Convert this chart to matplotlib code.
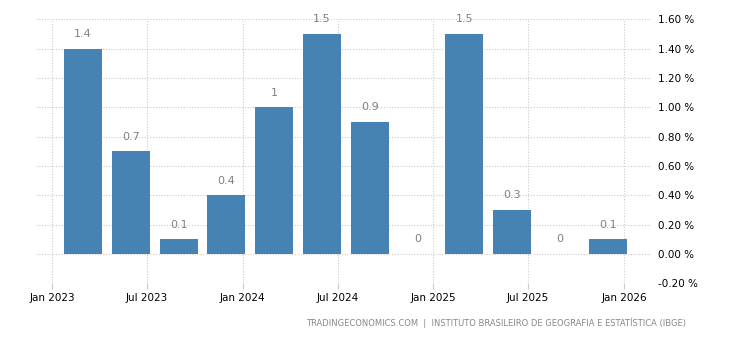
import datetime as dt
import matplotlib
matplotlib.use('Agg')
import matplotlib.pyplot as plt
import matplotlib.dates as mdates
from matplotlib.ticker import FuncFormatter

dates = ['2023-03-01', '2023-06-01', '2023-09-01', '2023-12-01',
         '2024-03-01', '2024-06-01', '2024-09-01', '2024-12-01',
         '2025-03-01', '2025-06-01', '2025-09-01', '2025-12-01']
values = [1.4, 0.7, 0.1, 0.4, 1.0, 1.5, 0.9, 0.0, 1.5, 0.3, 0.0, 0.1]
value_labels = ['1.4', '0.7', '0.1', '0.4', '1', '1.5', '0.9', '0', '1.5', '0.3', '0', '0.1']
xtick_dates = ['2023-01-01', '2023-07-01', '2024-01-01', '2024-07-01',
               '2025-01-01', '2025-07-01', '2026-01-01']
yticks = [-0.2, 0.0, 0.2, 0.4, 0.6, 0.8, 1.0, 1.2, 1.4, 1.6]
source = 'TRADINGECONOMICS.COM  |  INSTITUTO BRASILEIRO DE GEOGRAFIA E ESTATÍSTICA (IBGE)'

x = [dt.datetime.strptime(d, '%Y-%m-%d') for d in dates]
xt = [dt.datetime.strptime(d, '%Y-%m-%d') for d in xtick_dates]

matplotlib.rcParams.update({'font.family': 'DejaVu Sans', 'font.size': 7.5})
fig = plt.figure(figsize=(7.3, 3.4), dpi=100)
ax = fig.add_axes([0.0493, 0.1668, 0.8425, 0.7764])

ax.bar(x, values, width=73, color='#4682b4', zorder=3)
for xi, v, lab in zip(x, values, value_labels):
    ax.annotate(lab, (mdates.date2num(xi), v), xytext=(0, 7), textcoords='offset points',
                ha='center', va='bottom', color='#808080', fontsize=8)

ax.set_xlim(dt.datetime(2022, 12, 1), dt.datetime(2026, 2, 22))
ax.set_ylim(-0.2, 1.6)
ax.set_xticks(xt)
ax.xaxis.set_major_formatter(mdates.DateFormatter('%b %Y'))
ax.set_yticks(yticks)
ax.yaxis.set_major_formatter(FuncFormatter(lambda v, p: '%.2f %%' % v))
ax.yaxis.tick_right()

ax.grid(True, color='#cccccc', linestyle=(0, (1, 1.5)), linewidth=0.8, zorder=0)
for s in ax.spines.values():
    s.set_visible(False)
ax.tick_params(axis='y', length=0, pad=5, labelcolor='black')
ax.tick_params(axis='x', length=4, color='#cccccc', pad=3, labelcolor='black')

fig.text(0.94, 0.035, source, ha='right', va='bottom', color='#888888', fontsize=6)

fig.savefig('out.png', dpi=100)
